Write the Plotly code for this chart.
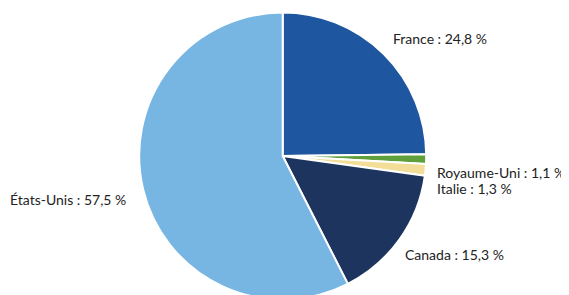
import plotly.graph_objects as go

countries = ["France", "Royaume-Uni", "Italie", "Canada", "États-Unis"]
shares = [24.8, 1.1, 1.3, 15.3, 57.5]
colors = ["#1F56A0", "#5FA03C", "#F2DE98", "#1D355E", "#77B6E2"]

W, H = 569, 295
OFF = 8  # page body margin offset
cx, cy, r = 282.7 - OFF, 156 - OFF, 143.5

fig = go.Figure(go.Pie(
    labels=countries,
    values=shares,
    sort=False,
    direction="clockwise",
    rotation=0,
    textinfo="none",
    hoverinfo="label+percent",
    marker=dict(colors=colors, line=dict(color="white", width=2)),
    domain=dict(x=[(cx - r) / W, (cx + r) / W],
                y=[1 - (cy + r) / H, 1 - (cy - r) / H]),
    showlegend=False,
))

def fmt(v):
    return f"{v:.1f}".replace(".", ",") + " %"

# label anchor positions (pixels, top-left origin, in the screenshot)
label_pos = {
    "France": (392, 38.5),
    "Royaume-Uni": (436, 172),
    "Italie": (436, 188.5),
    "Canada": (404, 254.5),
    "États-Unis": (9, 199),
}
for c, v in zip(countries, shares):
    px, py = label_pos[c]
    fig.add_annotation(
        x=(px - OFF) / W, y=1 - (py - OFF) / H, xref="paper", yref="paper",
        xanchor="left", yanchor="middle", showarrow=False,
        text=f"{c} : {fmt(v)}",
        font=dict(family="Lato", size=14, color="#222222"),
        borderpad=0,
    )

fig.update_layout(
    width=W, height=H,
    margin=dict(l=0, r=0, t=0, b=0),
    paper_bgcolor="white", plot_bgcolor="white",
)
fig.write_html("out.html")
